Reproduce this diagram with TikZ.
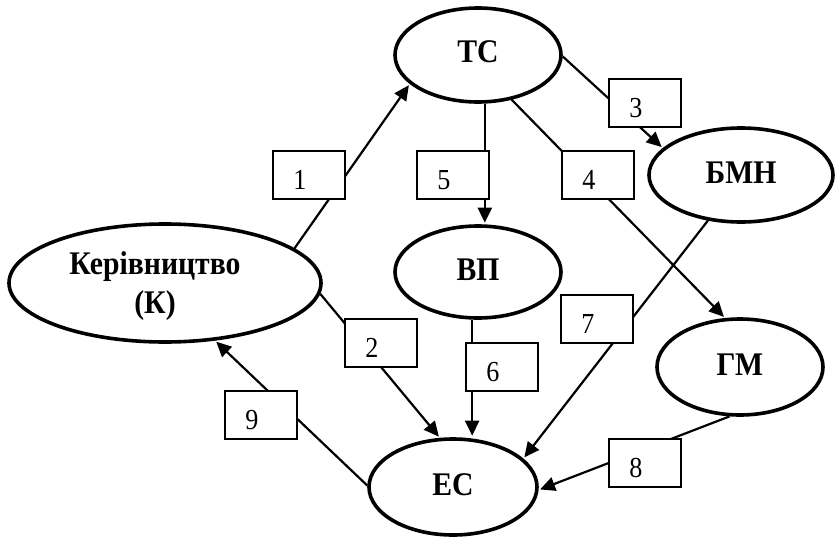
\documentclass[tikz,border=0pt]{standalone}
\usepackage{fontspec}
\setmainfont{Liberation Serif}
\newfontfamily\diagfont[FakeStretch=0.9]{Liberation Serif}
\usetikzlibrary{shapes.geometric,arrows.meta}

\tikzset{
  unitfont/.style={font=\diagfont\fontsize{33}{39}\selectfont\bfseries},
  unit/.style={ellipse, draw, line width=3.6pt, inner sep=0pt, unitfont, align=center},
  numbox/.style={rectangle, draw, fill=white, line width=1.3pt, inner sep=0pt,
    minimum width=72pt, minimum height=48pt},
  numtxt/.style={font=\diagfont\fontsize{29}{33}\selectfont, inner sep=0pt},
  link/.style={line width=2.2pt},
  flow/.style={link, shorten >=1.5pt, -{Triangle[length=15pt,width=14pt]}}
}
\newcommand{\up}[1]{\raisebox{4pt}{#1}}

\begin{document}
\begin{tikzpicture}[x=1pt,y=-1pt]
  \useasboundingbox (0,0) rectangle (836,538);

  % organisational units
  \node[unit, minimum width=166pt, minimum height=94pt] (TC)  at (478,55)  {\raisebox{6pt}{ТС}};
  \node[unit, minimum width=312pt, minimum height=118pt,
        label={[unitfont, align=center, xshift=-10pt, yshift=-3pt]center:Керівництво\\(К)}]
        (K) at (165,283) {};
  \node[unit, minimum width=166pt, minimum height=92pt] (VP)  at (478,272) {\up{ВП}};
  \node[unit, minimum width=168pt, minimum height=96pt] (EC)  at (453,487) {\up{ЕС}};
  \node[unit, minimum width=184pt, minimum height=94pt] (BMN) at (741,175) {\up{БМН}};
  \node[unit, minimum width=166pt, minimum height=96pt] (GM)  at (740,367) {\up{ГМ}};

  % numbered boxes (positions only; connectors drawn underneath)
  \coordinate (p1) at (309,175);
  \coordinate (p2) at (381,343);
  \coordinate (p3) at (645,103);
  \coordinate (p4) at (598,175);
  \coordinate (p5) at (453,175);
  \coordinate (p6) at (502,367);
  \coordinate (p7) at (597,319);
  \coordinate (p8) at (645,463);
  \coordinate (p9) at (261,415);

  % connectors
  \draw[flow] (K.15)    -- (TC.203);
  \draw[flow] (K.-4)    -- (EC.105);
  \draw[flow] (TC.-1)   -- (BMN.161);
  \draw[flow] (TC.-53)  -- (GM.107);
  \draw[flow] (TC.-82)  -- (VP.north -| TC.-82);
  \draw[flow] (VP.-97)  -- (EC.north -| VP.-97);
  \draw[flow] (BMN.234) -- (EC.22);
  \draw[flow] (GM.258)  -- (EC.-2);
  \draw[flow] (EC.179)  -- (K.-49);

  % boxes over the connectors
  \foreach \i in {1,...,9} {
    \node[numbox] (b\i) at (p\i) {};
    \node[numtxt] (t\i) at ([shift={(-9,5)}]b\i.center) {\i};
  }
\end{tikzpicture}
\end{document}
